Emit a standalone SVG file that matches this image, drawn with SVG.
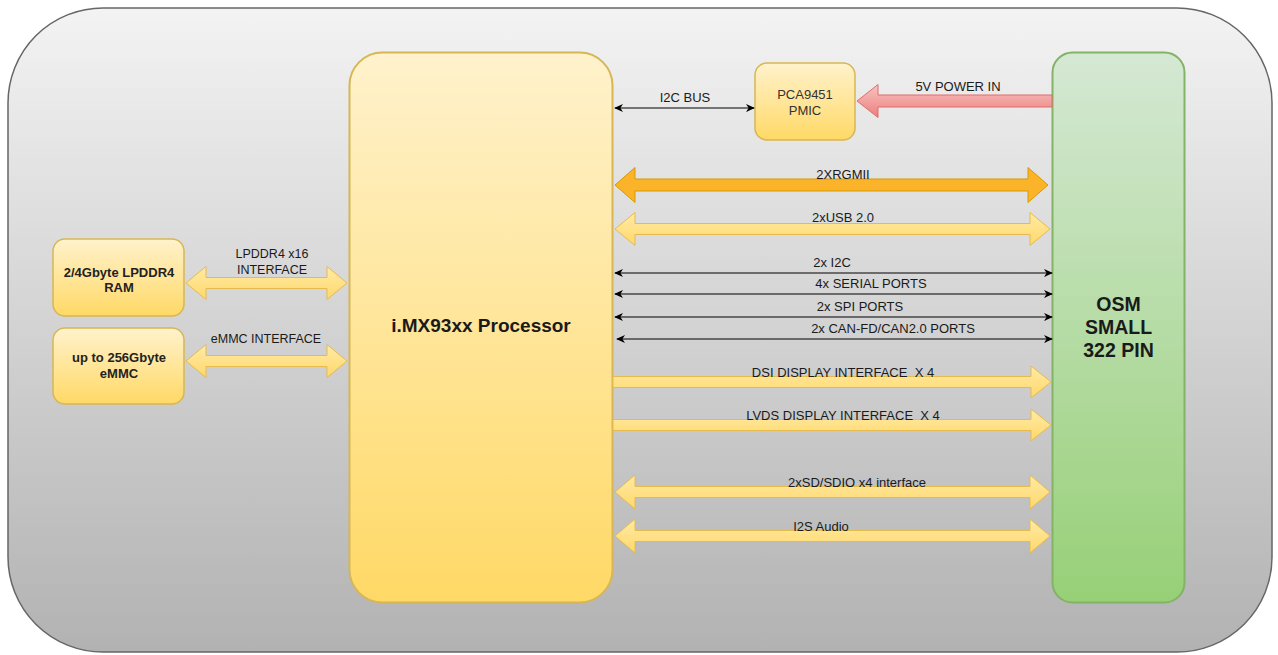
<svg xmlns="http://www.w3.org/2000/svg" width="1278" height="655" viewBox="0 0 1278 655">
<defs>
<linearGradient id="gBg" x1="0" y1="0" x2="0" y2="1"><stop offset="0" stop-color="#f3f3f3"/><stop offset="1" stop-color="#b2b2b2"/></linearGradient>
<linearGradient id="gY" x1="0" y1="0" x2="0" y2="1"><stop offset="0" stop-color="#fff2cc"/><stop offset="1" stop-color="#ffd966"/></linearGradient>
<linearGradient id="gA" x1="0" y1="0" x2="0" y2="1"><stop offset="0" stop-color="#ffeaa6"/><stop offset="1" stop-color="#ffd86a"/></linearGradient>
<linearGradient id="gR" x1="0" y1="0" x2="0" y2="1"><stop offset="0" stop-color="#f8c4c2"/><stop offset="1" stop-color="#ec7e7b"/></linearGradient>
<linearGradient id="gG" x1="0" y1="0" x2="0" y2="1"><stop offset="0" stop-color="#d5e8d4"/><stop offset="1" stop-color="#97d077"/></linearGradient>
<marker id="ah" viewBox="0 0 10 10" refX="9" refY="5" markerWidth="9" markerHeight="9" markerUnits="userSpaceOnUse" orient="auto-start-reverse"><path d="M0,0.5 L10,5 L0,9.5 L3,5 Z" fill="#000"/></marker>
</defs>
<style>
.box{fill:url(#gY);stroke:#d6b656;stroke-width:1.5}
.yar{fill:url(#gA);stroke:#e5bb50;stroke-width:1}
.thin{stroke:#000;stroke-width:1.2;fill:none;marker-start:url(#ah);marker-end:url(#ah)}
.lbl{font-family:"Liberation Sans",Arial,sans-serif;font-size:13px;fill:#1a1a1a;text-anchor:middle}
.bt{font-family:"Liberation Sans",Arial,sans-serif;font-size:13px;font-weight:bold;fill:#222;text-anchor:middle}
.big{font-family:"Liberation Sans",Arial,sans-serif;font-size:19px;font-weight:bold;fill:#1a1a1a;text-anchor:middle}
</style>
<rect x="8" y="8" width="1264" height="644" rx="95" fill="url(#gBg)" stroke="#666" stroke-width="1.5"/>
<g id="processor"><rect x="349.5" y="52.5" width="263" height="550" rx="33" fill="url(#gY)" stroke="#d6b656" stroke-width="2"/><text class="big" x="481" y="332">i.MX93xx Processor</text></g>
<g id="osm"><rect x="1052.5" y="52.5" width="132" height="550" rx="20" fill="url(#gG)" stroke="#82b366" stroke-width="2"/><text class="big" style="font-size:19.5px" x="1118.5" y="311">OSM</text><text class="big" style="font-size:19.5px" x="1118.5" y="334">SMALL</text><text class="big" style="font-size:19.5px" x="1118.5" y="357">322 PIN</text></g>
<g id="pmic"><rect class="box" x="755" y="63" width="100" height="77" rx="12"/><text class="lbl" style="fill:#333" x="805" y="98.5">PCA9451</text><text class="lbl" style="fill:#333" x="805" y="114.5">PMIC</text></g>
<g id="ram"><rect class="box" x="53" y="239" width="131" height="77" rx="12"/><text class="bt" x="119" y="277">2/4Gbyte LPDDR4</text><text class="bt" x="119" y="292">RAM</text></g>
<g id="emmc"><rect class="box" x="53" y="328" width="131" height="76" rx="12"/><text class="bt" x="119" y="362">up to 256Gbyte</text><text class="bt" x="119" y="378">eMMC</text></g>
<g id="connectors">
<line class="thin" x1="615" y1="108" x2="754" y2="108"/>
<path d="M857,101 L878,84.5 L878,95 L1052,95 L1052,107 L878,107 L878,117.5 Z" fill="url(#gR)" stroke="#e06d6a" stroke-width="1"/>
<path d="M615,185 L635,167.5 L635,179 L1028,179 L1028,167.5 L1048,185 L1028,202.5 L1028,191 L635,191 L635,202.5 Z" fill="#fbb32a" stroke="#d79b00" stroke-width="1"/>
<path class="yar" d="M615,229 L635,212.5 L635,223.5 L1030,223.5 L1030,212.5 L1050,229 L1030,245.5 L1030,234.5 L635,234.5 L635,245.5 Z"/>
<line class="thin" x1="615" y1="273" x2="1052" y2="273"/>
<line class="thin" x1="615" y1="294" x2="1052" y2="294"/>
<line class="thin" x1="615" y1="317" x2="1052" y2="317"/>
<line class="thin" x1="617" y1="339" x2="1052" y2="339"/>
<path class="yar" d="M613,376.5 L1031,376.5 L1031,366 L1051,382 L1031,398 L1031,387.5 L613,387.5 Z"/>
<path class="yar" d="M613,419.5 L1031,419.5 L1031,409 L1051,425 L1031,441 L1031,430.5 L613,430.5 Z"/>
<path class="yar" d="M615,492 L635,475 L635,486.5 L1030,486.5 L1030,475 L1050,492 L1030,509 L1030,497.5 L635,497.5 L635,509 Z"/>
<path class="yar" d="M615,536 L635,519 L635,530.5 L1030,530.5 L1030,519 L1050,536 L1030,553 L1030,541.5 L635,541.5 L635,553 Z"/>
<path class="yar" d="M186,283 L206,266.5 L206,277.5 L327,277.5 L327,266.5 L347,283 L327,299.5 L327,288.5 L206,288.5 L206,299.5 Z"/>
<path class="yar" d="M186,361 L206,344.5 L206,355.5 L327,355.5 L327,344.5 L347,361 L327,377.5 L327,366.5 L206,366.5 L206,377.5 Z"/>
<text class="lbl" x="685" y="101.5">I2C BUS</text>
<text class="lbl" x="958" y="90.5">5V POWER IN</text>
<text class="lbl" x="843" y="178.5">2XRGMII</text>
<text class="lbl" x="843" y="221.5">2xUSB 2.0</text>
<text class="lbl" x="832" y="266.5">2x I2C</text>
<text class="lbl" x="871" y="287.5">4x SERIAL PORTS</text>
<text class="lbl" x="860" y="310.5">2x SPI PORTS</text>
<text class="lbl" x="893" y="332.5">2x CAN-FD/CAN2.0 PORTS</text>
<text class="lbl" x="843" y="376.5" xml:space="preserve">DSI DISPLAY INTERFACE  X 4</text>
<text class="lbl" x="843" y="419.5" xml:space="preserve">LVDS DISPLAY INTERFACE  X 4</text>
<text class="lbl" x="857" y="486.5">2xSD/SDIO x4 interface</text>
<text class="lbl" x="821" y="530.5">I2S Audio</text>
<text class="lbl" style="font-size:12.5px" x="272" y="257.5">LPDDR4 x16</text>
<text class="lbl" style="font-size:12.5px" x="272" y="273.5">INTERFACE</text>
<text class="lbl" style="font-size:12.5px" x="266" y="342.5">eMMC INTERFACE</text>
</g>
</svg>
